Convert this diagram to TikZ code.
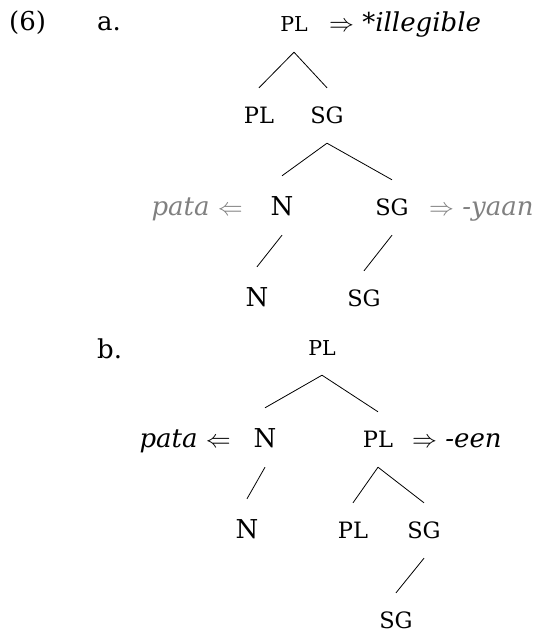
\documentclass[tikz,border=0pt]{standalone}
\usepackage{fontspec}
\setmainfont{DejaVu Serif}
\definecolor{greyish}{RGB}{128,128,128}
\begin{document}
\begin{tikzpicture}[x=1pt,y=-1pt,
  sc/.style={anchor=base, inner xsep=0pt, inner ysep=20pt, text height=15pt, text depth=0pt, font=\fontsize{22.5}{24}\selectfont},
  sctop/.style={sc, text height=14pt, font=\fontsize{20.5}{22}\selectfont},
  capnode/.style={anchor=base, inner xsep=0pt, inner ysep=20pt, text height=19pt, text depth=0pt, font=\fontsize{26}{28}\selectfont},
  txt/.style={inner sep=0pt, font=\fontsize{26}{28}\selectfont},
  edge/.style={line width=0.8pt}]
\useasboundingbox (0,0) rectangle (538,634);
% labels
\node[txt, anchor=base west] (ex) at (9,31) {(6)};
\node[txt, anchor=base west] (la) at (97,31) {a.};
\node[txt, anchor=base west] (lb) at (97,358) {b.};
% tree a
\node[sctop] (a0) at (294,32) {PL};
\node[txt, anchor=base west] (a0r) at (329,32) {$\Rightarrow$ \textit{*illegible}};
\node[sc] (a1) at (259,123) {PL};
\node[sc] (a2) at (327,123) {SG};
\node[capnode] (a3) at (282,215) {N};
\node[sc] (a4) at (392,215) {SG};
\node[txt, anchor=base east, text=greyish] (a3l) at (243,215) {\textit{pata} $\Leftarrow$};
\node[txt, anchor=base west, text=greyish] (a4r) at (429,215) {$\Rightarrow$ \textit{-yaan}};
\node[capnode] (a5) at (257,306) {N};
\node[sc] (a6) at (364,306) {SG};
\draw[edge] (a0.south) -- (a1.north);
\draw[edge] (a0.south) -- (a2.north);
\draw[edge] (a2.south) -- (a3.north);
\draw[edge] (a2.south) -- (a4.north);
\draw[edge] (a3.south) -- (a5.north);
\draw[edge] (a4.south) -- (a6.north);
% tree b
\node[sctop] (b0) at (322,355) {PL};
\node[capnode] (b1) at (265,447) {N};
\node[sc] (b2) at (378,447) {PL};
\node[txt, anchor=base east] (b1l) at (231,447) {\textit{pata} $\Leftarrow$};
\node[txt, anchor=base west] (b2r) at (412,447) {$\Rightarrow$ \textit{-een}};
\node[capnode] (b3) at (247,538) {N};
\node[sc] (b4) at (353,538) {PL};
\node[sc] (b5) at (424,538) {SG};
\node[sc] (b6) at (396,628) {SG};
\draw[edge] (b0.south) -- (b1.north);
\draw[edge] (b0.south) -- (b2.north);
\draw[edge] (b1.south) -- (b3.north);
\draw[edge] (b2.south) -- (b4.north);
\draw[edge] (b2.south) -- (b5.north);
\draw[edge] (b5.south) -- (b6.north);
\end{tikzpicture}
\end{document}
